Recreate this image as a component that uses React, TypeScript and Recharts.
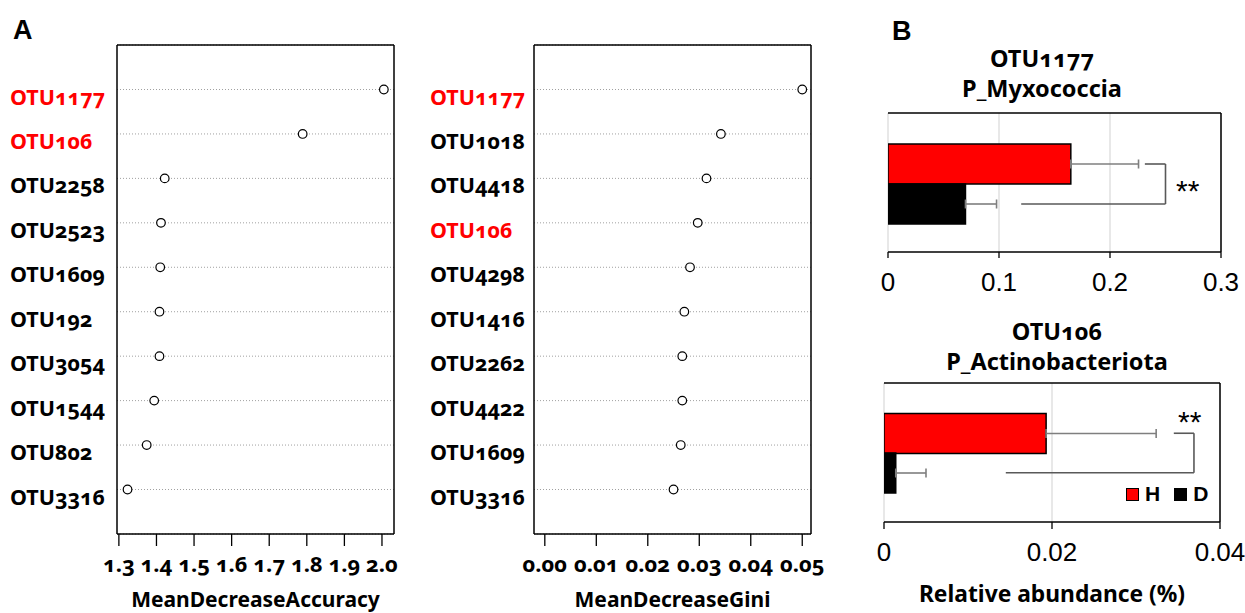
import React from "react"
import {
  Bar,
  CartesianGrid,
  Cell,
  ComposedChart,
  ErrorBar,
  Legend,
  Line,
  LineChart,
  ReferenceDot,
  ReferenceLine,
  XAxis,
  YAxis,
} from "recharts"

// Panel A: random forest importance
const accuracyOtus = [
  "OTU1177", "OTU106", "OTU2258", "OTU2523", "OTU1609",
  "OTU192", "OTU3054", "OTU1544", "OTU802", "OTU3316",
]
const accuracyValues = [2.005, 1.789, 1.422, 1.412, 1.41, 1.408, 1.408, 1.394, 1.374, 1.323]
const accuracyTicks = [1.3, 1.4, 1.5, 1.6, 1.7, 1.8, 1.9, 2.0]

const giniOtus = [
  "OTU1177", "OTU1018", "OTU4418", "OTU106", "OTU4298",
  "OTU1416", "OTU2262", "OTU4422", "OTU1609", "OTU3316",
]
const giniValues = [0.05, 0.0342, 0.0314, 0.0297, 0.0282, 0.0271, 0.0267, 0.0267, 0.0264, 0.025]
const giniTicks = [0, 0.01, 0.02, 0.03, 0.04, 0.05]

const highlighted = ["OTU1177", "OTU106"]

// Panel B: relative abundance, H vs D
const groups = ["H", "D"]
const otu1177Means = [0.1647, 0.0698]
const otu1177Errors = [0.061, 0.028]
const otu1177Ticks = [0, 0.1, 0.2, 0.3]
const otu106Means = [0.0193, 0.0014]
const otu106Errors = [0.0131, 0.0036]
const otu106Ticks = [0, 0.02, 0.04]

const CANDARA = "'Noto Sans', 'DejaVu Sans', sans-serif"
const ARIAL = "'Liberation Sans', Arial, sans-serif"
const RED = "#ff0000"
const GROUP_COLORS = [RED, "#000000"]

function OtuTick(props: any) {
  const { y, payload } = props
  const color = highlighted.includes(payload.value) ? RED : "#000"
  return (
    <text x={10} y={y + 15} fill={color} fontFamily={CANDARA} fontWeight={700} fontSize={21.5}>
      {payload.value}
    </text>
  )
}

interface DotPanelProps {
  otus: string[]
  values: number[]
  ticks: number[]
  domain: [number, number]
  digits: number
  title: string
  left: number
  width: number
  axisWidth: number
}

function DotPanel({ otus, values, ticks, domain, digits, title, left, width, axisWidth }: DotPanelProps) {
  const data = otus.map((name, i) => ({ name, value: values[i] }))
  const frame = { stroke: "#000", strokeWidth: 1.5 }
  return (
    <div style={{ position: "absolute", left, top: 0 }}>
      <LineChart
        width={width}
        height={613}
        data={data}
        layout="vertical"
        margin={{ top: 44, right: width - axisWidth - 278, bottom: 0, left: 0 }}
      >
        <CartesianGrid vertical={false} stroke="#a0a0a0" strokeDasharray="1 2" />
        <XAxis
          type="number"
          dataKey="value"
          domain={domain}
          ticks={ticks}
          interval={0}
          allowDataOverflow
          axisLine={frame}
          tickLine={{ stroke: "#000", strokeWidth: 1.3 }}
          tickSize={12}
          tickMargin={10.5}
          height={79}
          tickFormatter={(v: number) => v.toFixed(digits)}
          tick={{ fill: "#000", fontSize: 22, fontWeight: 700, fontFamily: CANDARA }}
          label={{
            value: title,
            position: "insideBottom",
            offset: 6,
            fill: "#000",
            fontSize: 21,
            fontWeight: 700,
            fontFamily: CANDARA,
          }}
        />
        <XAxis
          xAxisId="top"
          orientation="top"
          type="number"
          domain={domain}
          allowDataOverflow
          height={1}
          tick={false}
          tickLine={false}
          axisLine={frame}
        />
        <YAxis
          type="category"
          dataKey="name"
          scale="point"
          width={axisWidth}
          padding={{ top: 44.5, bottom: 44.5 }}
          axisLine={frame}
          tickLine={false}
          interval={0}
          tick={<OtuTick />}
        />
        <YAxis
          yAxisId="right"
          orientation="right"
          type="category"
          dataKey="name"
          scale="point"
          width={1}
          tick={false}
          tickLine={false}
          axisLine={frame}
        />
        {/* invisible series so the frame axes are drawn */}
        <Line
          xAxisId="top"
          yAxisId="right"
          dataKey="value"
          stroke="none"
          dot={false}
          activeDot={false}
          legendType="none"
          isAnimationActive={false}
        />
        <Line
          dataKey="value"
          stroke="none"
          dot={{ r: 4.3, fill: "#fff", stroke: "#000", strokeWidth: 1.2 }}
          activeDot={false}
          isAnimationActive={false}
        />
      </LineChart>
    </div>
  )
}

interface Bracket {
  start: number
  arm: number
  end: number
  starX: number
  starDy: number
}

interface BarPanelProps {
  means: number[]
  errors: number[]
  ticks: number[]
  bracket: Bracket
  top: number
  height: number
  plotTop: number
  plotLeft: number
  plotWidth: number
  padTop: number
  padBottom: number
  tickSize: number
  tickMargin: number
  xLabel?: string
  showLegend?: boolean
}

function LegendContent() {
  return (
    <div style={{ display: "flex", alignItems: "center", fontFamily: ARIAL, fontWeight: 700, fontSize: 21 }}>
      {groups.map((g, i) => (
        <div key={g} style={{ display: "flex", alignItems: "center", marginLeft: i === 0 ? 0 : 14 }}>
          <span
            style={{
              width: 11,
              height: 11,
              background: GROUP_COLORS[i],
              border: "1px solid #000",
              display: "inline-block",
              marginRight: 6,
            }}
          />
          <span style={{ lineHeight: "22px" }}>{g}</span>
        </div>
      ))}
    </div>
  )
}

function BarPanel(p: BarPanelProps) {
  const rows = groups.map((g, i) => ({ group: g, mean: p.means[i], err: [0, p.errors[i]] }))
  const max = p.ticks[p.ticks.length - 1]
  const b = p.bracket
  const width = 385
  const frame = { stroke: "#000", strokeWidth: 1.5 }
  const bracketLine = { stroke: "#595959", strokeWidth: 1.6 }
  return (
    <div style={{ position: "absolute", left: 860, top: p.top }}>
      <ComposedChart
        width={width}
        height={p.height}
        data={rows}
        layout="vertical"
        barCategoryGap={0}
        margin={{ top: p.plotTop - 1, left: p.plotLeft, right: width - p.plotLeft - p.plotWidth - 1, bottom: 0 }}
      >
        <CartesianGrid horizontal={false} stroke="#d9d9d9" strokeWidth={1.2} />
        <XAxis
          type="number"
          domain={[0, max]}
          ticks={p.ticks}
          interval={0}
          allowDataOverflow
          axisLine={frame}
          tickLine={{ stroke: "#000", strokeWidth: 1.3 }}
          tickSize={p.tickSize}
          tickMargin={p.tickMargin}
          height={p.height - p.plotTop - 139}
          tick={{ fill: "#000", fontSize: 26, fontFamily: ARIAL }}
          label={
            p.xLabel
              ? {
                  value: p.xLabel,
                  position: "insideBottom",
                  offset: 11,
                  fill: "#000",
                  fontSize: 22.8,
                  fontWeight: 700,
                  fontFamily: CANDARA,
                }
              : undefined
          }
        />
        <XAxis
          xAxisId="top"
          orientation="top"
          type="number"
          domain={[0, max]}
          allowDataOverflow
          height={1}
          tick={false}
          tickLine={false}
          axisLine={frame}
        />
        <YAxis
          type="category"
          dataKey="group"
          width={0}
          padding={{ top: p.padTop, bottom: p.padBottom }}
          tick={false}
          tickLine={false}
          axisLine={frame}
        />
        <YAxis
          yAxisId="right"
          orientation="right"
          type="category"
          dataKey="group"
          width={1}
          tick={false}
          tickLine={false}
          axisLine={frame}
        />
        {/* invisible series so the frame axes are drawn */}
        <Line
          xAxisId="top"
          yAxisId="right"
          dataKey="mean"
          stroke="none"
          dot={false}
          activeDot={false}
          legendType="none"
          isAnimationActive={false}
        />
        <Bar dataKey="mean" stroke="#000" strokeWidth={1.5} isAnimationActive={false}>
          {rows.map((r, i) => (
            <Cell key={r.group} fill={GROUP_COLORS[i]} />
          ))}
          <ErrorBar
            dataKey="err"
            direction="x"
            width={4.5}
            stroke="#7f7f7f"
            strokeWidth={1.6}
            isAnimationActive={false}
          />
        </Bar>
        <ReferenceLine segment={[{ x: b.start, y: groups[0] }, { x: b.arm, y: groups[0] }]} {...bracketLine} />
        <ReferenceLine segment={[{ x: b.arm, y: groups[0] }, { x: b.arm, y: groups[1] }]} {...bracketLine} />
        <ReferenceLine segment={[{ x: b.arm, y: groups[1] }, { x: b.end, y: groups[1] }]} {...bracketLine} />
        <ReferenceDot
          x={b.starX}
          y={groups[0]}
          r={1}
          fill="none"
          stroke="none"
          label={{
            content: (lp: any) => {
              const vb = lp.viewBox ?? {}
              const cx = (vb.x ?? 0) + (vb.width ?? 0) / 2
              const cy = (vb.y ?? 0) + (vb.height ?? 0) / 2
              return (
                <text x={cx} y={cy + b.starDy} textAnchor="middle" fill="#000" fontSize={30} fontFamily={ARIAL}>
                  **
                </text>
              )
            },
          }}
        />
        {p.showLegend && (
          <Legend
            layout="horizontal"
            verticalAlign="middle"
            align="center"
            wrapperStyle={{ left: 266, top: 183, width: "auto" }}
            content={<LegendContent />}
          />
        )}
      </ComposedChart>
    </div>
  )
}

const titleStyle: React.CSSProperties = {
  position: "absolute",
  width: 320,
  textAlign: "center",
  fontFamily: CANDARA,
  fontWeight: 700,
  fontSize: 23.5,
  lineHeight: "30px",
  color: "#000",
  whiteSpace: "nowrap",
}

const letterStyle: React.CSSProperties = {
  position: "absolute",
  fontFamily: ARIAL,
  fontWeight: 700,
  fontSize: 27,
  lineHeight: "30px",
  color: "#000",
}

export default function App() {
  return (
    <div style={{ position: "relative", width: 1245, height: 613, background: "#fff", overflow: "hidden" }}>
      <style>{`body{margin:0} text, .numfix{font-variant-numeric: oldstyle-nums;}`}</style>
      <div style={{ ...letterStyle, left: 13, top: 15 }}>A</div>
      <div style={{ ...letterStyle, left: 892, top: 16 }}>B</div>

      <DotPanel
        otus={accuracyOtus}
        values={accuracyValues}
        ticks={accuracyTicks}
        domain={[1.295, 2.032]}
        digits={1}
        title="MeanDecreaseAccuracy"
        left={0}
        width={420}
        axisWidth={117}
      />
      <DotPanel
        otus={giniOtus}
        values={giniValues}
        ticks={giniTicks}
        domain={[-0.0021, 0.0517]}
        digits={2}
        title="MeanDecreaseGini"
        left={420}
        width={440}
        axisWidth={114}
      />

      <div className="numfix" style={{ ...titleStyle, left: 1042 - 160, top: 43 }}>
        OTU1177
        <br />
        P_Myxococcia
      </div>
      <BarPanel
        means={otu1177Means}
        errors={otu1177Errors}
        ticks={otu1177Ticks}
        bracket={{ start: 0.2314, arm: 0.25, end: 0.12, starX: 0.27, starDy: 37 }}
        top={0}
        height={310}
        plotTop={113}
        plotLeft={28}
        plotWidth={333}
        padTop={31}
        padBottom={28}
        tickSize={6}
        tickMargin={15}
      />

      <div className="numfix" style={{ ...titleStyle, left: 1057 - 160, top: 316 }}>
        OTU106
        <br />
        P_Actinobacteriota
      </div>
      <BarPanel
        means={otu106Means}
        errors={otu106Errors}
        ticks={otu106Ticks}
        bracket={{ start: 0.0345, arm: 0.0369, end: 0.0145, starX: 0.0364, starDy: -1 }}
        top={300}
        height={313}
        plotTop={83}
        plotLeft={24}
        plotWidth={336}
        padTop={30.5}
        padBottom={29.5}
        tickSize={7}
        tickMargin={14}
        xLabel="Relative abundance (%)"
        showLegend
      />
    </div>
  )
}
